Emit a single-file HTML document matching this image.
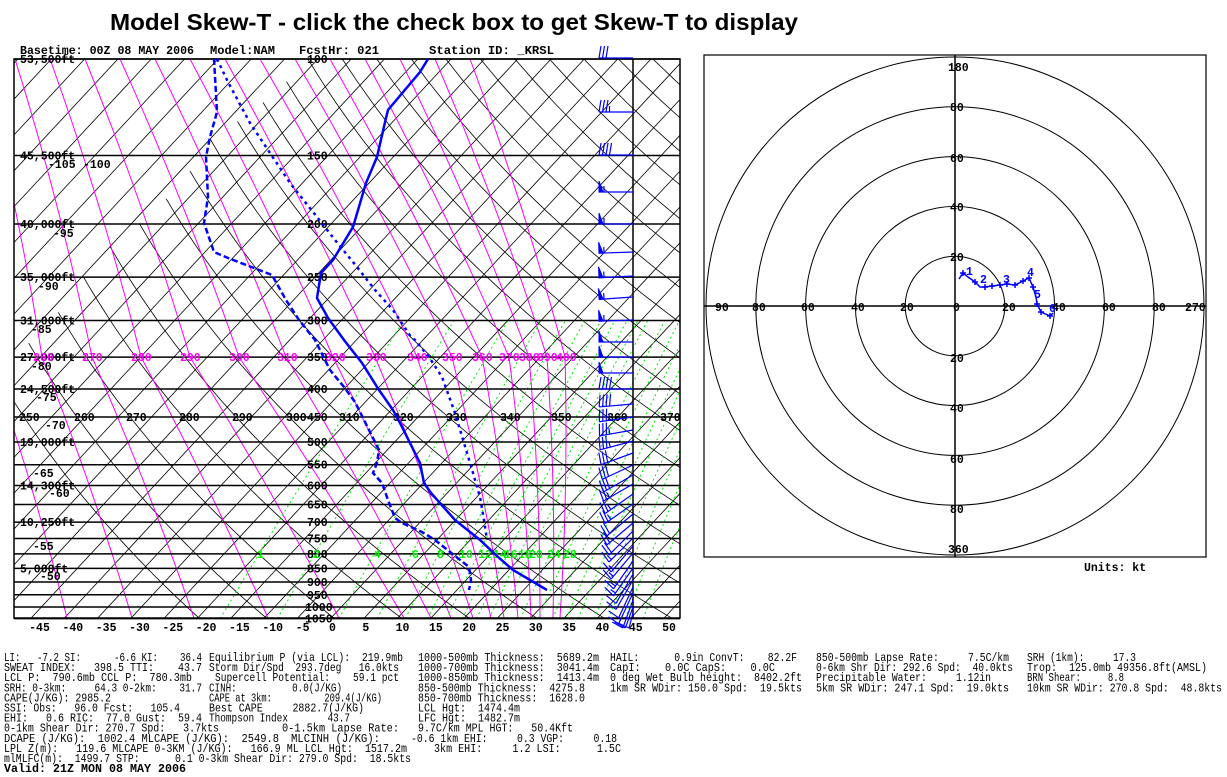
<!DOCTYPE html>
<html><head><meta charset="utf-8"><style>
html,body{margin:0;padding:0;background:#fff;}
svg{display:block;}
.b{font-family:"Liberation Mono",monospace;font-weight:bold;font-size:11.5px;}
.t{font-family:"Liberation Mono",monospace;font-size:12px;}
.t text{white-space:pre;}
</style></head><body>
<svg id="s" xmlns="http://www.w3.org/2000/svg" width="1227" height="777" viewBox="0 0 1227 777">
<defs><clipPath id="cp"><rect x="14" y="59" width="666" height="559"/></clipPath>
<clipPath id="hc"><rect x="704" y="55" width="502" height="502"/></clipPath></defs>
<rect width="1227" height="777" fill="#fff"/>
<text x="110" y="30" font-family="Liberation Sans,sans-serif" font-weight="bold" font-size="23" textLength="688" lengthAdjust="spacingAndGlyphs">Model Skew-T - click the check box to get Skew-T to display</text>
<g class="b" font-size="11">
<text x="20" y="54" textLength="174" lengthAdjust="spacingAndGlyphs">Basetime: 00Z 08 MAY 2006</text>
<text x="210" y="54" textLength="65" lengthAdjust="spacingAndGlyphs">Model:NAM</text>
<text x="299" y="54" textLength="80" lengthAdjust="spacingAndGlyphs">FcstHr:  021</text>
<text x="429" y="54" textLength="125" lengthAdjust="spacingAndGlyphs">Station ID:  _KRSL</text>
</g>
<g id="grid" clip-path="url(#cp)"></g>
<g id="over"></g>
<g clip-path="url(#hc)" fill="none" stroke="#000" stroke-width="1">
<circle cx="955" cy="306" r="49.8"/><circle cx="955" cy="306" r="99.6"/><circle cx="955" cy="306" r="149.4"/><circle cx="955" cy="306" r="199.2"/><circle cx="955" cy="306" r="249"/>
</g>
<rect x="704" y="55" width="502" height="502" fill="none" stroke="#000" stroke-width="1.2"/>
<line x1="704" y1="306" x2="1206" y2="306" stroke="#000" stroke-width="1.5"/>
<line x1="955" y1="55" x2="955" y2="557" stroke="#000" stroke-width="1.5"/>
<g class="b" font-size="11">
<text x="948" y="71">180</text><text x="950" y="111">80</text><text x="950" y="162">60</text><text x="950" y="211">40</text><text x="950" y="261">20</text>
<text x="950" y="362">20</text><text x="950" y="412">40</text><text x="950" y="463">60</text><text x="950" y="513">80</text><text x="948" y="553">360</text>
<text x="715" y="311">90</text><text x="752" y="311">80</text><text x="801" y="311">60</text><text x="851" y="311">40</text><text x="900" y="311">20</text>
<text x="953" y="311">0</text><text x="1002" y="311">20</text><text x="1052" y="311">40</text><text x="1102" y="311">60</text><text x="1152" y="311">80</text><text x="1185" y="311">270</text>
<text x="1084" y="571">Units: kt</text>
</g>
<g stroke="#00f" fill="none" stroke-width="1.5">
<polyline points="959,279 963,273 968,277 975,282 980,287 985,287 992,286 1000,285 1007,284 1015,285 1023,281 1029,278 1033,287 1036,297 1037,304 1041,312 1050,316 1053,313"/>
</g>
<g id="hp" stroke="#00f" stroke-width="1.5"></g>
<g class="b" fill="#00f" font-size="11">
<text x="966" y="275">1</text><text x="980" y="283">2</text><text x="1003" y="283">3</text><text x="1027" y="276">4</text><text x="1034" y="298">5</text><text x="1049" y="312">6</text>
</g>
<g id="tx" class="t"></g>
</svg>
<script>
const NS='http://www.w3.org/2000/svg';
function el(tag,a,p,txt){const e=document.createElementNS(NS,tag);for(const k in a)e.setAttribute(k,a[k]);if(txt!==undefined)e.textContent=txt;p.appendChild(e);return e;}
const G=document.getElementById('grid'),O=document.getElementById('over');
const Y=p=>59+238*Math.log(p/100);
const X=(T,p)=>331+6.663*T+0.93*(618-Y(p));
const pl=(pts)=>pts.map(q=>q[0].toFixed(1)+','+q[1].toFixed(1)).join(' ');
for(let T=-200;T<=60;T+=5){el('line',{x1:X(T,1050),y1:Y(1050),x2:X(T,100),y2:Y(100),stroke:'#000','stroke-width':0.8},G);}
for(let th=250;th<=520;th+=10){const pts=[];for(let p=1050;p>=100;p-=10){const T=th*Math.pow(p/1000,0.2857)-273.15;if(T<-85)break;pts.push([X(T,p),Y(p)]);}if(pts.length>1)el('polyline',{points:pl(pts),fill:'none',stroke:'#000','stroke-width':0.8},G);}
const L={240:-60,250:-10,260:42,270:92,280:141,290:190,300:239,310:286,320:333,330:375,340:417,350:452,360:482,370:509,380:529,390:547,400:565};
const B={240:0,250:67,260:132,270:194,280:268,290:339,300:404,310:431,320:451,330:473,340:491,350:504,360:518,370:531,380:540,390:553,400:560};
for(let th=240;th<=400;th+=10){const i=(th-260)/10;const top=-20+35*i;const l=L[th],b=B[th];
el('path',{d:`M${top},59 Q${(top+l)/2+8},${(59+357)/2} ${l},357 Q${(l+b)/2+6},${(357+618)/2} ${b},618`,fill:'none',stroke:'#f0f','stroke-width':1},G);}
const W=[1,2,4,6,8,10,12,14,16,18,20,24,28,32,36,40,46,52,60,70];
for(const w of W){const pts=[];for(let p=1050;p>=300;p-=25){const e=w*p/(622+w);const l=Math.log(e/6.112);const T=243.5*l/(17.67-l);pts.push([X(T,p),Y(p)]);}
el('polyline',{points:pl(pts),fill:'none',stroke:'#0e0','stroke-width':1,'stroke-dasharray':'2,3'},G);}
const P=[100,150,200,250,300,350,400,450,500,550,600,650,700,750,800,850,900,950,1000,1050];
for(const p of P){el('line',{x1:14,y1:Y(p),x2:680,y2:Y(p),stroke:'#000','stroke-width':1.5},O);}
el('rect',{x:14,y:59,width:666,height:559,fill:'none',stroke:'#000','stroke-width':1.5},O);
el('line',{x1:633,y1:59,x2:633,y2:618,stroke:'#000','stroke-width':1.5},O);
function tb(x,y,s,c,fs){el('text',{x:x,y:y,'class':'b',fill:c||'#000','font-size':fs||11.5},O,s);}
const mg=[[260,33],[270,82],[280,131],[290,180],[300,229],[310,277],[320,325],[330,366],[340,407],[350,442],[360,472],[370,499],[380,519],[390,537],[400,556]];
const alt=[['53,500ft',100],['45,500ft',150],['40,000ft',200],['35,000ft',250],['31,000ft',300],['27,000ft',350],['24,500ft',400],['19,000ft',500],['14,300ft',600],['10,250ft',700],['5,000ft',850]];
for(const a of alt)tb(20,Y(a[1])+4,a[0]);
const iso=[['-105',48,168],['-100',83,168],['-95',53,237],['-90',38,290],['-85',31,333],['-80',31,370],['-75',36,401],['-70',45,429],['-65',33,477],['-60',49,497],['-55',33,550],['-50',40,580]];
for(const a of iso)tb(a[1],a[2],a[0]);
for(const p of P)tb(p>=1000?305:307,Y(p)+4,String(p));
for(const m of mg)tb(m[1],Y(350)+4,String(m[0]),'#f0f');
const bl=[[250,19],[260,74],[270,126],[280,179],[290,232],[300,286],[310,339],[320,393],[330,446],[340,500],[350,551],[360,607],[370,660]];
for(const m of bl)tb(m[1],Y(450)+4,String(m[0]));
const gr=[['1',257],['2',313],['4',374],['6',412],['8',437],['10',459],['12',478],['14',493],['16',504],['18',518],['20',529],['24',547],['28',563]];
for(const g of gr)tb(g[1],Y(800)+4,g[0],'#0e0');
for(let T=-45;T<=50;T+=5)tb(329+6.663*T,631,String(T));
el('polyline',{points:'428,59 420,72 388,110 386,118 377,157 366,183 353,227 333,260 321,273 317,298 328,318 344,340 362,363 379,390 393,410 400,423 420,463 424,483 431,493 455,520 480,540 498,557 513,570 547,590',fill:'none',stroke:'#00f','stroke-width':2.5},O);
el('polyline',{points:'214,59 217,112 210,137 206,157 208,197 204,223 214,252 228,258 254,268 272,275 286,300 299,320 315,340 330,370 344,387 355,402 364,420 379,450 377,463 373,473 382,483 388,500 395,518 402,523 422,532 435,540 469,567 471,580 469,590',fill:'none',stroke:'#00f','stroke-width':2.5,'stroke-dasharray':'6,3'},O);
el('polyline',{points:'217,59 228,82 250,123 268,150 290,183 317,217 335,240 357,267 375,290 393,310 411,337 415,340 429,357 442,377 446,388 455,413 467,453 473,473 480,497 484,520 487,540',fill:'none',stroke:'#00f','stroke-width':2.5,'stroke-dasharray':'3,4'},O);
const WB=[[58,0,30],[112,0,35],[155,0,40],[192,0,55],[224,0,55],[252,2,55],[276,3,55],[297,4,55],[320,2,55],[342,0,50],[357,0,50],[373,0,50],[389,0,40],[404,5,40],[417,8,35],[430,10,35],[441,15,35],[453,20,30],[465,25,30],[475,30,30],[484,30,25],[494,35,25],[504,35,25],[514,40,20],[523,40,20],[531,45,20],[538,45,15],[546,50,15],[553,50,15],[561,55,15],[568,55,15],[574,60,10],[580,60,10],[587,65,10],[593,65,10],[600,70,10],[607,70,10],[613,75,10]];
for(const w of WB){const a=w[1]*Math.PI/180;const dx=-Math.cos(a),dy=Math.sin(a);let Ls=34;if(dy>0.01)Ls=Math.min(34,(628-w[0])/dy);const bx=633,by=w[0];const tx=bx+dx*Ls,ty=by+dy*Ls;
el('line',{x1:bx,y1:by,x2:tx,y2:ty,stroke:'#00f','stroke-width':1.2},O);
const nx=-dy,ny=dx;let s=w[2];let d=0;
while(s>=50){const p1=[tx-dx*d,ty-dy*d],p2=[tx-dx*(d+4),ty-dy*(d+4)];el('polygon',{points:pl([p1,[p1[0]+nx*11,p1[1]+ny*11],p2]),fill:'#00f',stroke:'#00f'},O);d+=5;s-=50;}
while(s>=10){el('line',{x1:tx-dx*d,y1:ty-dy*d,x2:tx-dx*d+nx*12-dx*2,y2:ty-dy*d+ny*12-dy*2,stroke:'#00f','stroke-width':1.2},O);d+=3.5;s-=10;}
if(s>=5){el('line',{x1:tx-dx*d,y1:ty-dy*d,x2:tx-dx*d+nx*6,y2:ty-dy*d+ny*6,stroke:'#00f','stroke-width':1.2},O);}
}
const hp=document.getElementById('hp');
[[963,273],[975,282],[985,287],[992,286],[1000,285],[1007,284],[1015,285],[1023,281],[1029,278],[1033,287],[1037,304],[1041,312],[1050,316]].forEach(q=>{el('path',{d:`M${q[0]-3},${q[1]}h6M${q[0]},${q[1]-3}v6`},hp);});
const TX=document.getElementById('tx');
const R=[
[[4,202,"LI:   -7.2 SI:      -6.6 KI:    36.4"],[209,403,"Equilibrium P (via LCL):  219.9mb"],[418,599,"1000-500mb Thickness:  5689.2m"],[610,797,"HAIL:      0.9in ConvT:    82.2F"],[816,1009,"850-500mb Lapse Rate:     7.5C/km"],[1027,1136,"SRH (1km):     17.3"]],
[[4,202,"SWEAT INDEX:   398.5 TTI:    43.7"],[209,399,"Storm Dir/Spd  293.7deg   16.0kts"],[418,599,"1000-700mb Thickness:  3041.4m"],[610,775,"CapI:    0.0C CapS:    0.0C"],[816,1013,"0-6km Shr Dir: 292.6 Spd:  40.0kts"],[1027,1207,"Trop:  125.0mb 49356.8ft(AMSL)"]],
[[4,192,"LCL P:  790.6mb CCL P:  780.3mb"],[215,399,"Supercell Potential:    59.1 pct"],[418,599,"1000-850mb Thickness:  1413.4m"],[610,802,"0 deg Wet Bulb height:  8402.2ft"],[816,991,"Precipitable Water:     1.12in"],[1027,1124,"BRN Shear:     8.8"]],
[[4,202,"SRH: 0-3km:     64.3 0-2km:    31.7"],[209,342,"CINH:          0.0(J/KG)"],[418,585,"850-500mb Thickness:  4275.8"],[610,802,"1km SR WDir: 150.0 Spd:  19.5kts"],[816,1009,"5km SR WDir: 247.1 Spd:  19.0kts"],[1027,1222,"10km SR WDir: 270.8 Spd:  48.8kts"]],
[[4,111,"CAPE(J/KG): 2985.2"],[209,382,"CAPE at 3km:          209.4(J/KG)"],[418,585,"850-700mb Thickness:  1628.0"]],
[[4,180,"SSI: Obs:   96.0 Fcst:   105.4"],[209,364,"Best CAPE     2882.7(J/KG)"],[418,520,"LCL Hgt:  1474.4m"]],
[[4,202,"EHI:   0.6 RIC:  77.0 Gust:  59.4"],[209,350,"Thompson Index       43.7"],[418,520,"LFC Hgt:  1482.7m"]],
[[4,219,"0-1km Shear Dir: 270.7 Spd:   3.7kts"],[282,399,"0-1.5km Lapse Rate:"],[418,573,"9.7C/km MPL HGT:   50.4Kft"]],
[[4,279,"DCAPE (J/KG):  1002.4 MLCAPE (J/KG):  2549.8"],[291,380,"MLCINH (J/KG):"],[411,617,"-0.6 1km EHI:     0.3 VGP:     0.18"]],
[[4,407,"LPL Z(m):   119.6 MLCAPE 0-3KM (J/KG):   166.9 ML LCL Hgt:  1517.2m"],[434,621,"3km EHI:     1.2 LSI:      1.5C"]],
[[4,411,"mlMLFC(m):  1499.7 STP:      0.1 0-3km Shear Dir: 279.0 Spd:  18.5kts"]]];
R.forEach((row,i)=>{const y=661+10.1*i;row.forEach(s=>{el('text',{x:s[0],y:y,textLength:s[1]-s[0],lengthAdjust:'spacingAndGlyphs',style:'white-space:pre'},TX,s[2]);});});
el('text',{x:4,y:772,'class':'b','font-size':11.5,textLength:182,lengthAdjust:'spacingAndGlyphs'},TX,"Valid: 21Z MON 08 MAY 2006");
</script>
</body></html>
